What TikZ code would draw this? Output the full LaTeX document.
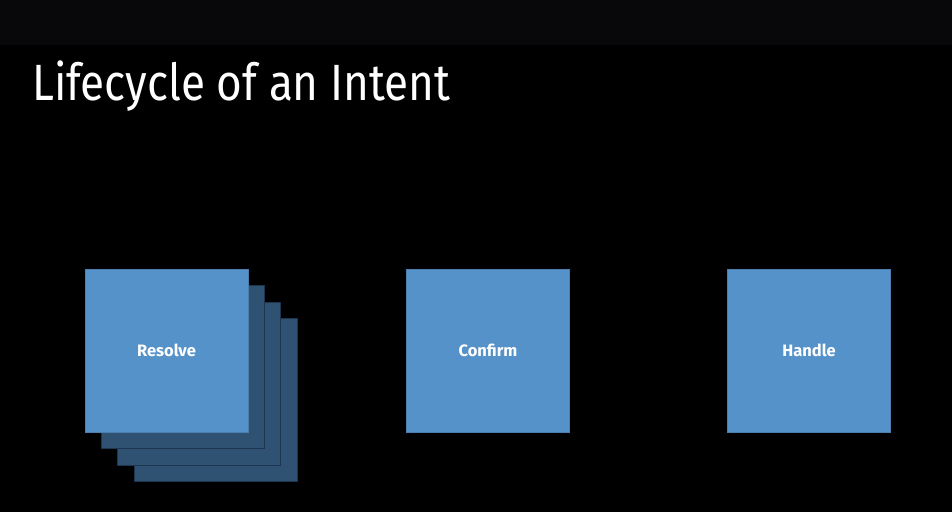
\documentclass[tikz,border=0pt]{standalone}
\usepackage{fontspec}
\setmainfont{Fira Sans}
\definecolor{bandgray}{HTML}{08080A}
\definecolor{boxblue}{HTML}{5592C9}
\definecolor{boxedge}{HTML}{4A7FAF}
\definecolor{backblue}{HTML}{2F5273}
\definecolor{backedge}{HTML}{1D3550}
\begin{document}
\begin{tikzpicture}[x=1pt,y=-1pt,
  mainbox/.style={draw=boxedge, line width=0.8pt, fill=boxblue, minimum size=163pt, inner sep=0pt,
    text=white, font=\bfseries\fontsize{16.5}{20}\selectfont},
  backbox/.style={draw=backedge, line width=0.8pt, fill=backblue, minimum size=163pt, inner sep=0pt}]
\useasboundingbox (0,0) rectangle (952,512);
\fill[black] (0,0) rectangle (952,512);
\fill[bandgray] (0,0) rectangle (952,45);
\node[anchor=base west, inner sep=0pt, text=white, font=\fontsize{51}{60}\selectfont] (title) at (32,100) {\resizebox{418pt}{\height}{Lifecycle of an Intent}};
\node[backbox] (back3) at (215.8,400) {};
\node[backbox] (back2) at (199.3,383.7) {};
\node[backbox] (back1) at (183,367.2) {};
\node[mainbox] (resolve) at (166.5,350.8) {Resolve};
\node[mainbox] (confirm) at (488,350.8) {Confirm};
\node[mainbox] (handle) at (809,350.8) {Handle};
\end{tikzpicture}
\end{document}
